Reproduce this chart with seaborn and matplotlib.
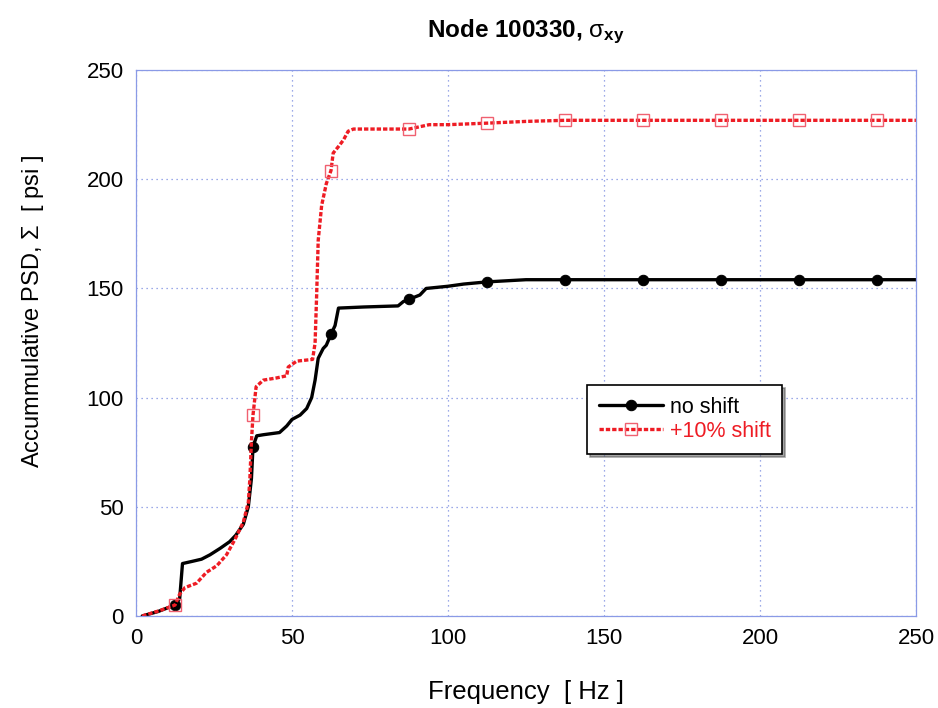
import numpy as np
import pandas as pd
import matplotlib
matplotlib.use("Agg")
import matplotlib.pyplot as plt
import seaborn as sns

freq_noshift = [2, 7, 12.5, 14, 14.9, 18, 21, 23.7, 27, 30, 32, 34.4, 36, 37,
                37.5, 38.7, 40.8, 46, 48.3, 50, 52.6, 54.7, 56.3, 57.4, 58.4,
                60, 61, 62.5, 63.8, 64.9, 72.9, 84, 85.7, 87.5, 91, 93, 100,
                105, 112.5, 125, 137.5, 162.5, 187.5, 212.5, 237.5, 250]
psd_noshift = [0, 2, 5, 8, 24, 25, 26, 28, 31, 34, 37, 42, 50, 63,
               77.5, 82.5, 83, 84, 87, 90, 92, 95, 100, 108, 118,
               122.5, 124, 129, 133, 141, 141.5, 142, 144, 145, 147, 150, 151,
               152, 153, 154, 154, 154, 154, 154, 154, 154]

freq_shift = [2, 7.7, 12.5, 14, 15.7, 19.4, 22.6, 25.9, 29, 31.7, 34.4, 36,
              36.5, 37, 37.5, 38.5, 40.8, 45, 48.3, 48.8, 51.5, 56.6, 57.4,
              57.9, 58.4, 59.5, 61, 62.5, 63.2, 64.9, 66.5, 68, 69.7, 80,
              87.5, 94, 100, 112.5, 125, 137.5, 162.5, 187.5, 212.5, 237.5, 250]
psd_shift = [0, 2.5, 5, 10, 13, 15, 20, 23, 28, 35, 43, 52,
             63, 80, 92, 105, 108, 109, 110, 114, 116.7, 117.5, 125,
             147, 172, 188, 198, 204, 212, 215, 218, 222, 223, 223,
             223, 225, 225, 225.7, 226.5, 227, 227, 227, 227, 227, 227]

marker_freqs = [12.5, 37.5, 62.5, 87.5, 112.5, 137.5, 162.5, 187.5, 212.5, 237.5]
xticks = [0, 50, 100, 150, 200, 250]
yticks = [0, 50, 100, 150, 200, 250]

sns.set_style("white")
plt.rcParams["font.family"] = ["Liberation Sans", "DejaVu Sans"]
plt.rcParams["mathtext.fontset"] = "custom"
plt.rcParams["mathtext.rm"] = "Liberation Sans"
plt.rcParams["mathtext.bf"] = "Liberation Sans:bold"
plt.rcParams["mathtext.it"] = "Liberation Sans:italic"
for k in ("text.color", "axes.labelcolor", "xtick.color", "ytick.color"):
    plt.rcParams[k] = "black"

df_a = pd.DataFrame({"freq": freq_noshift, "psd": psd_noshift})
df_b = pd.DataFrame({"freq": freq_shift, "psd": psd_shift})
mark_a = [i for i, f in enumerate(freq_noshift) if f in marker_freqs]
mark_b = [i for i, f in enumerate(freq_shift) if f in marker_freqs]

fig = plt.figure(figsize=(9.38, 7.08), dpi=100)
ax = fig.add_axes([0.145, 0.130, 0.8315, 0.771])

grid_c = "#7d8ee0"
ax.grid(True, color=grid_c, linestyle=(0, (1, 3)), linewidth=0.9)
ax.set_axisbelow(True)

sns.lineplot(data=df_a, x="freq", y="psd", ax=ax, sort=False, estimator=None,
             color="black", linewidth=2.4, marker="o", markersize=7.5,
             markevery=mark_a, markeredgecolor="black", label="no shift")
sns.lineplot(data=df_b, x="freq", y="psd", ax=ax, sort=False, estimator=None,
             color="#ee1c24", linewidth=2.4, linestyle=(0, (1.3, 0.6)),
             marker="s", markersize=8, markevery=mark_b, markerfacecolor="none",
             markeredgecolor="#f06070", markeredgewidth=1.0,
             label="+10% shift")

ax.set_xlim(0, 250)
ax.set_ylim(0, 250)
ax.set_xticks(xticks)
ax.set_yticks(yticks)
ax.tick_params(length=0, labelsize=16, pad=9)
for sp in ax.spines.values():
    sp.set_color("#8a9ae6")
    sp.set_linewidth(0.9)

ax.set_xlabel("Frequency  [ Hz ]", fontsize=18.5, labelpad=22)
ax.set_ylabel(r"Accummulative PSD, $\mathrm{\Sigma}$  [ psi ]", fontsize=17)
ax.yaxis.set_label_coords(-0.115, 0.557)
ax.set_title(r"Node 100330, $\mathrm{\sigma}_{\mathbf{xy}}$", fontsize=17.5,
             fontweight="bold", pad=24)

leg = ax.legend(loc="lower left", bbox_to_anchor=(0.578, 0.297), fontsize=15.5,
                frameon=True, fancybox=False, shadow=True, edgecolor="black",
                handlelength=3.0, borderpad=0.55, labelspacing=0.15,
                handletextpad=0.3, borderaxespad=0)
leg.get_frame().set_linewidth(1.2)
leg.get_texts()[1].set_color("#ee1c24")

fig.savefig("out.png", dpi=100)
